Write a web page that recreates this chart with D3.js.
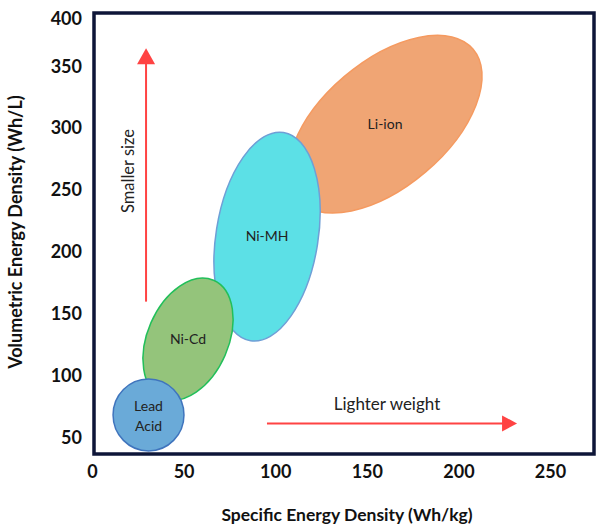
<!DOCTYPE html>
<html><head><meta charset="utf-8">
<script src="https://cdn.jsdelivr.net/npm/d3@7/dist/d3.min.js"></script>
<style>
html,body{margin:0;padding:0;background:#fff;}
text{font-family:Lato,"Open Sans",sans-serif;}
</style></head>
<body><svg id="chart" width="598" height="527"></svg>
<script>
// ---- data ----
const batteries = ["Li-ion", "Ni-MH", "Ni-Cd", "Lead Acid"];
const specMin = [107, 66.6, 27.8, 11.5];     // Wh/kg
const specMax = [212.9, 124.5, 77.0, 50.2];
const volMin  = [231.5, 128.2, 80.6, 39.5];  // Wh/L
const volMax  = [375.0, 296.8, 179.0, 97.6];
const xTicks = [0, 50, 100, 150, 200, 250];
const yTicks = [50, 100, 150, 200, 250, 300, 350, 400];
const xTitle = "Specific Energy Density (Wh/kg)";
const yTitle = "Volumetric Energy Density (Wh/L)";
const upArrow = {x: 29.5, y0: 160, y1: 364.5, label: "Smaller size"};
const rightArrow = {y: 61.7, x0: 95.5, x1: 232, label: "Lighter weight"};

// ---- styles ----
const tilt = [49.6, 9, 23.5, 0];
const fills = ["#f0a574", "#5ce0e6", "#94c47b", "#6aaad8"];
const strokes = ["#f59a60", "#6f9fd6", "#22bf5a", "#3f74bd"];

const svg = d3.select("#chart");
const x = d3.scaleLinear().domain([0, 274]).range([92, 594]);
const y = d3.scaleLinear().domain([37, 393]).range([454, 13]).clamp(true);

// ellipses
const g = svg.append("g");
batteries.forEach((name, i) => {
  const x0 = x(specMin[i]), x1 = x(specMax[i]);
  const y0 = y(volMax[i]), y1 = y(volMin[i]);
  const cx = (x0 + x1) / 2, cy = (y0 + y1) / 2;
  const hw = (x1 - x0) / 2, hh = (y1 - y0) / 2;
  const th = tilt[i] * Math.PI / 180;
  const S = hh * hh + hw * hw;
  const D = Math.abs(Math.cos(2 * th)) < 1e-6 ? 0 : (hh * hh - hw * hw) / Math.cos(2 * th);
  const a = Math.sqrt(Math.max((S + D) / 2, 1));
  const b = Math.sqrt(Math.max((S - D) / 2, 1));
  g.append("ellipse")
    .attr("transform", `translate(${cx},${cy}) rotate(${tilt[i]})`)
    .attr("rx", b).attr("ry", a)
    .attr("fill", fills[i]).attr("stroke", strokes[i]).attr("stroke-width", 1.5);
  const t = g.append("text").attr("x", cx).attr("y", cy)
    .attr("text-anchor", "middle").attr("font-size", 14).attr("fill", "#222");
  const lines = name === "Lead Acid" ? ["Lead", "Acid"] : [name];
  lines.forEach((ln, k) => {
    t.append("tspan").attr("x", cx)
      .attr("dy", k === 0 ? (lines.length === 1 ? "0.35em" : "-0.3em") : "1.45em")
      .text(ln);
  });
});

// arrows
const red = "#ff4343";
svg.append("line").attr("x1", x(upArrow.x)).attr("x2", x(upArrow.x))
  .attr("y1", y(upArrow.y0)).attr("y2", y(upArrow.y1) + 14)
  .attr("stroke", red).attr("stroke-width", 2);
{
  const ax = x(upArrow.x), ay = y(upArrow.y1);
  svg.append("path").attr("d", `M${ax},${ay} L${ax + 9},${ay + 16} L${ax - 9},${ay + 16} Z`).attr("fill", red);
}
svg.append("text")
  .attr("transform", `translate(${x(upArrow.x) - 12},${(y(upArrow.y0) + y(upArrow.y1)) / 2 - 4}) rotate(-90)`)
  .attr("text-anchor", "middle").attr("font-size", 16.5).attr("fill", "#222").text(upArrow.label);

svg.append("line").attr("y1", y(rightArrow.y)).attr("y2", y(rightArrow.y))
  .attr("x1", x(rightArrow.x0)).attr("x2", x(rightArrow.x1) - 14)
  .attr("stroke", red).attr("stroke-width", 2);
{
  const ax = x(rightArrow.x1), ay = y(rightArrow.y);
  svg.append("path").attr("d", `M${ax},${ay} L${ax - 15},${ay - 8} L${ax - 15},${ay + 8} Z`).attr("fill", red);
}
svg.append("text").attr("x", (x(rightArrow.x0) + x(rightArrow.x1)) / 2 - 5).attr("y", y(rightArrow.y) - 13)
  .attr("text-anchor", "middle").attr("font-size", 17).attr("fill", "#222").text(rightArrow.label);

// frame
svg.append("rect").attr("x", 94).attr("y", 13).attr("width", 500).attr("height", 441)
  .attr("fill", "none").attr("stroke", "#0e1638").attr("stroke-width", 3.5);

// axes
const xAxis = svg.append("g").attr("transform", "translate(0,454)")
  .call(d3.axisBottom(x).tickValues(xTicks).tickSize(0).tickPadding(11));
xAxis.select(".domain").remove();
xAxis.selectAll("text").attr("font-size", 18).attr("font-weight", "bold")
  .attr("fill", "#111").style("font-family", "Lato, 'Open Sans', sans-serif");

const yAxis = svg.append("g").attr("transform", "translate(92,0)")
  .call(d3.axisLeft(y).tickValues(yTicks).tickSize(0).tickPadding(10));
yAxis.select(".domain").remove();
yAxis.selectAll("text").attr("font-size", 18).attr("font-weight", "bold")
  .attr("fill", "#111").style("font-family", "Lato, 'Open Sans', sans-serif");
yAxis.selectAll(".tick").filter(d => d === 400).select("text").attr("dy", "0.62em");

// titles
svg.append("text").attr("x", 347).attr("y", 521).attr("text-anchor", "middle")
  .attr("font-size", 17.5).attr("font-weight", "bold").attr("fill", "#111").text(xTitle);
svg.append("text").attr("transform", "translate(22,232) rotate(-90)").attr("text-anchor", "middle")
  .attr("font-size", 18).attr("font-weight", "bold").attr("fill", "#111").text(yTitle);
</script></body></html>
